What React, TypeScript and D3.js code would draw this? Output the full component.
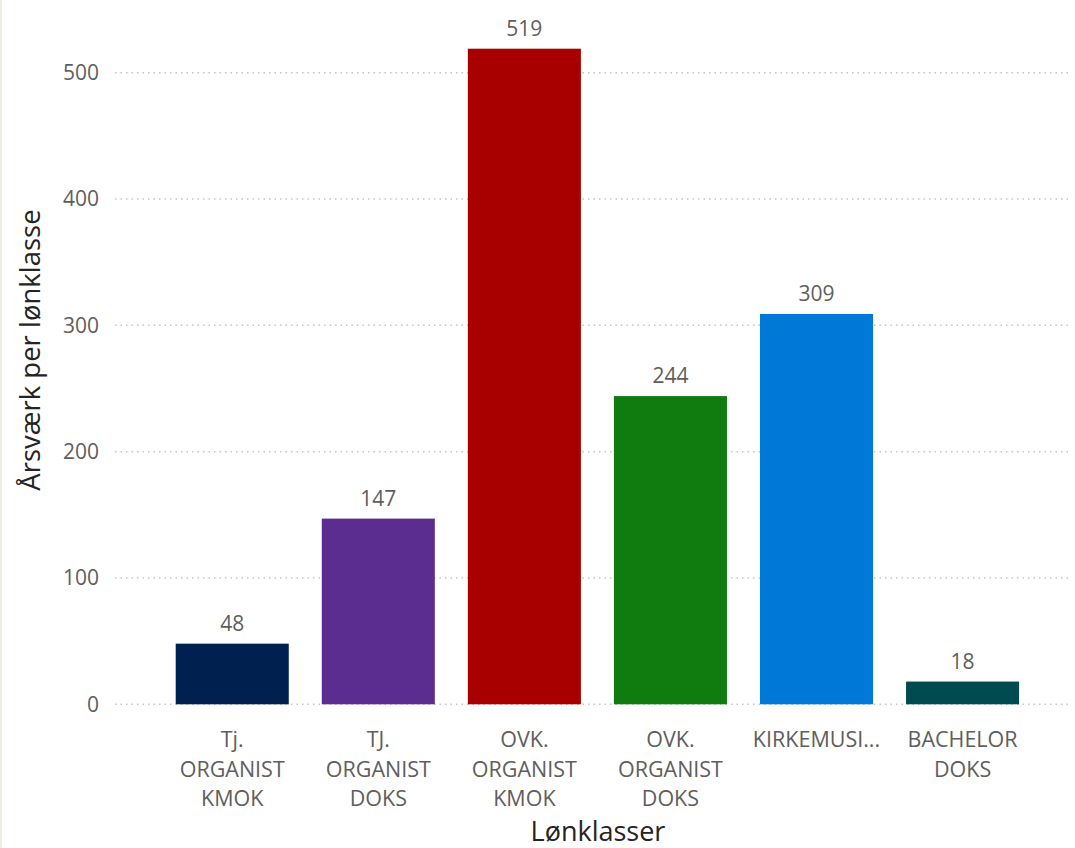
import React from "react";
import * as d3 from "d3";

const categories: string[][] = [
  ["Tj.", "ORGANIST", "KMOK"],
  ["TJ.", "ORGANIST", "DOKS"],
  ["OVK.", "ORGANIST", "KMOK"],
  ["OVK.", "ORGANIST", "DOKS"],
  ["KIRKEMUSI..."],
  ["BACHELOR", "DOKS"],
];
const values: number[] = [48, 147, 519, 244, 309, 18];
const colors: string[] = ["#002050", "#5c2d91", "#a80000", "#107c10", "#0078d7", "#004b50"];
const yTicks: number[] = [0, 100, 200, 300, 400, 500];

const W = 1075;
const H = 848;
const FONT = "'Segoe UI', 'Open Sans', 'Noto Sans', sans-serif";

export default function App() {
  const x = d3
    .scaleBand<number>()
    .domain(values.map((_, i) => i))
    .range([159.2, 1035.6])
    .paddingInner(0.226)
    .paddingOuter(0.113);
  const y = d3.scaleLinear().domain([0, 500]).range([704.3, 72.7]);

  return (
    <svg
      width={W}
      height={H}
      style={{ position: "absolute", left: 0, top: 0, background: "#fff" }}
      fontFamily={FONT}
    >
      <line x1={1} x2={1} y1={0} y2={H} stroke="#f3eee4" strokeWidth={2} />
      {yTicks.map((t) => (
        <g key={t}>
          <line
            x1={115}
            x2={1070}
            y1={y(t)}
            y2={y(t)}
            stroke="#c8c6c4"
            strokeWidth={1.5}
            strokeDasharray="1.5,4"
          />
          <text x={99} y={y(t)} dy="0.35em" textAnchor="end" fontSize={21} fill="#605e5c">
            {t}
          </text>
        </g>
      ))}
      {values.map((v, i) => {
        const bx = x(i)!;
        const bw = x.bandwidth();
        return (
          <g key={i}>
            <rect x={bx} y={y(v)} width={bw} height={y(0) - y(v)} fill={colors[i]} />
            <text
              x={bx + bw / 2}
              y={y(v) - 13}
              textAnchor="middle"
              fontSize={21}
              fill="#605e5c"
            >
              {v}
            </text>
            {categories[i].map((line, j) => (
              <text
                key={j}
                x={bx + bw / 2}
                y={747 + j * 29.6}
                textAnchor="middle"
                fontSize={21.5}
                fill="#605e5c"
              >
                {line}
              </text>
            ))}
          </g>
        );
      })}
      <text x={598} y={841} textAnchor="middle" fontSize={27} fill="#252423">
        Lønklasser
      </text>
      <text
        transform={`translate(40, 350) rotate(-90)`}
        textAnchor="middle"
        fontSize={27.5}
        fill="#252423"
      >
        Årsværk per lønklasse
      </text>
    </svg>
  );
}
